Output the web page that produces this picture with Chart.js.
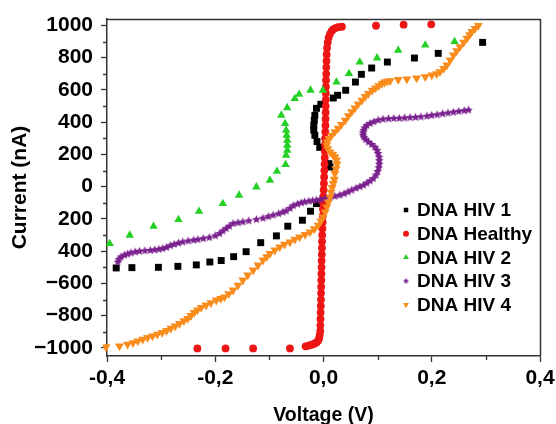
<!DOCTYPE html>
<html>
<head>
<meta charset="utf-8">
<script src="https://cdn.jsdelivr.net/npm/chart.js@4/dist/chart.umd.min.js"></script>
<style>
  html, body { margin: 0; padding: 0; background: #fff; }
  #wrap { width: 556px; height: 424px; }
</style>
</head>
<body>
<div id="wrap"><canvas id="c" width="556" height="424"></canvas></div>
<script>
// ---------------- data ----------------
const seriesLabels = ['DNA HIV 1', 'DNA Healthy', 'DNA HIV 2', 'DNA HIV 3', 'DNA HIV 4'];

const hiv1V = [-0.383, -0.354, -0.305, -0.269, -0.235, -0.210, -0.189, -0.166, -0.143, -0.116, -0.087, -0.066, -0.039, -0.024, -0.013,
  0.010, 0.012, -0.007, -0.012, -0.016, -0.018, -0.018, -0.017, -0.016, -0.013, -0.005,
  0.018, 0.026, 0.041, 0.059, 0.070, 0.089, 0.118, 0.168, 0.212, 0.294];
const hiv1I = [-504, -502, -500, -494, -485, -467, -458, -434, -403, -347, -305, -245, -208, -152, -105,
  143, 122, 244, 280, 319, 350, 381, 412, 443, 486, 511,
  550, 567, 598, 649, 697, 736, 773, 798, 827, 895];

const healthyV = [-0.233, -0.181, -0.130, -0.062,
  -0.033, -0.029, -0.025, -0.021, -0.017, -0.013, -0.010, -0.008, -0.007, -0.006,
  -0.0058, -0.0056, -0.0053, -0.0050, -0.0047, -0.0045, -0.0043, -0.0040, -0.0038, -0.0036, -0.0034, -0.0031, -0.0029, -0.0027,
  -0.0024, -0.0020, -0.0016, -0.0012, -0.0009, -0.0006, -0.0002, 0.0003, 0.0008, 0.0012, 0.0016, 0.0020, 0.0023, 0.0025,
  0.0027, 0.0030, 0.0033, 0.0036, 0.0038, 0.0040, 0.0041, 0.0042, 0.0043, 0.0044, 0.0047, 0.0050, 0.0052, 0.0055, 0.0058,
  0.0065, 0.0078, 0.0095, 0.012, 0.015, 0.018, 0.022, 0.027, 0.034, 0.097, 0.148, 0.199];
const healthyI = [-1003, -1003, -1003, -1003,
  -990, -987, -983, -979, -974, -966, -955, -940, -920, -895,
  -860, -820, -780, -740, -700, -660, -620, -580, -540, -500, -460, -420, -380, -340,
  -300, -260, -220, -180, -140, -100, -60, -20, 20, 60, 100, 140, 180, 220,
  260, 300, 340, 380, 420, 460, 500, 540, 580, 620, 660, 700, 740, 780, 820,
  860, 895, 925, 948, 965, 976, 984, 989, 992, 998, 1005, 1007];

const hiv2V = [-0.395, -0.358, -0.314, -0.268, -0.230, -0.186, -0.156, -0.124, -0.099, -0.086, -0.070, -0.069, -0.067, -0.067,
  -0.067, -0.068, -0.069, -0.071, -0.078, -0.067, -0.053, -0.045, -0.024, -0.001, 0.024, 0.047, 0.067, 0.099, 0.138, 0.188, 0.242];
const hiv2I = [-353, -301, -246, -204, -153, -105, -53, -2, 40, 95, 137, 195, 226, 257,
  288, 319, 350, 391, 443, 490, 546, 573, 598, 598, 649, 701, 773, 798, 846, 878, 900];

const hiv3V = [-0.380, -0.378, -0.374, -0.368, -0.362, -0.356, -0.348, -0.340, -0.330, -0.320, -0.312, -0.304, -0.297, -0.290,
  -0.283, -0.276, -0.268, -0.260, -0.250, -0.240, -0.232, -0.222, -0.211, -0.200, -0.192, -0.186, -0.180, -0.174, -0.167,
  -0.158, -0.149, -0.138, -0.124, -0.112, -0.102, -0.093, -0.083, -0.075, -0.069, -0.062, -0.056, -0.048, -0.041, -0.035,
  -0.027, -0.020, -0.013, -0.006, 0.003, 0.012, 0.021, 0.030, 0.038, 0.045, 0.052, 0.060, 0.067, 0.074, 0.080, 0.086,
  0.092, 0.097, 0.100, 0.102, 0.103, 0.103, 0.103, 0.101, 0.099, 0.095, 0.089, 0.083, 0.078, 0.075, 0.073, 0.073, 0.074,
  0.076, 0.080, 0.086, 0.093, 0.101, 0.110, 0.120, 0.130, 0.140, 0.150, 0.160, 0.170, 0.180, 0.191, 0.200, 0.210, 0.220,
  0.230, 0.240, 0.250, 0.260, 0.268];
const hiv3I = [-467, -450, -436, -425, -418, -411, -405, -401, -398, -395, -392, -388, -384, -377,
  -366, -358, -350, -343, -337, -332, -328, -322, -316, -305, -291, -275, -260, -245, -229,
  -224, -219, -212, -204, -196, -186, -177, -168, -158, -151, -135, -118, -108, -100, -95,
  -90, -87, -84, -80, -74, -68, -60, -53, -44, -33, -22, -10, 0, 9, 22, 35,
  50, 72, 95, 118, 140, 162, 184, 206, 226, 245, 262, 277, 292, 306, 320, 335, 350,
  365, 380, 392, 402, 412, 418, 421, 423, 424, 426, 428, 430, 433, 437, 442, 446, 452,
  457, 462, 467, 471, 475];

const hiv4V = [-0.402, -0.377, -0.362, -0.352, -0.343, -0.334, -0.325, -0.316, -0.307, -0.298, -0.290, -0.282, -0.274, -0.266,
  -0.258, -0.251, -0.245, -0.239, -0.233, -0.226, -0.217, -0.208, -0.198, -0.190, -0.183, -0.175, -0.167, -0.158, -0.149,
  -0.140, -0.130, -0.121, -0.112, -0.105, -0.099, -0.090, -0.081, -0.072, -0.062, -0.053, -0.044, -0.034, -0.025, -0.017,
  -0.010, -0.005, -0.001, 0.003, 0.006, 0.009, 0.012, 0.014, 0.016, 0.018, 0.020, 0.021, 0.023, 0.025, 0.024, 0.021, 0.017,
  0.012, 0.008, 0.006, 0.007, 0.010, 0.015, 0.021, 0.027, 0.033, 0.040, 0.046, 0.052, 0.058, 0.064, 0.071, 0.077, 0.083,
  0.090, 0.096, 0.102, 0.108, 0.113, 0.118, 0.123, 0.138, 0.154, 0.172, 0.188, 0.200, 0.209, 0.215, 0.222, 0.228, 0.234,
  0.240, 0.246, 0.252, 0.259, 0.265, 0.270, 0.274, 0.280, 0.286];
const hiv4I = [-994, -988, -978, -968, -957, -946, -936, -926, -916, -905, -893, -878, -864, -849,
  -832, -818, -800, -781, -765, -750, -735, -720, -704, -694, -684, -664, -642, -612, -580,
  -549, -518, -487, -456, -435, -415, -394, -374, -358, -343, -327, -312, -297, -281, -262,
  -239, -214, -188, -158, -126, -95, -64, -33, -5, 19, 45, 81, 110, 140, 165, 185, 200,
  215, 235, 257, 278, 298, 318, 340, 362, 385, 412, 440, 464, 488, 512, 536, 558, 578,
  598, 612, 626, 639, 648, 654, 657, 664, 668, 674, 682, 692, 700, 713, 732, 754, 785,
  816, 842, 868, 895, 920, 942, 962, 981, 999];

const xTicks = [-0.4, -0.2, 0, 0.2, 0.4];
const xTickLabels = ['-0,4', '-0,2', '0,0', '0,2', '0,4'];
const xMinor = [-0.3, -0.1, 0.1, 0.3];
const yTicks = [-1000, -800, -600, -400, -200, 0, 200, 400, 600, 800, 1000];
const yTickLabels = ['\u22121000', '\u2212800', '\u2212600', '400', '200', '0', '200', '400', '600', '800', '1000'];
const yMinor = [-900, -700, -500, -300, -100, 100, 300, 500, 700, 900];

// ---------------- styles ----------------
const FONT = "'Liberation Sans', Arial, sans-serif";
const AXIS = '#333333';
const colors = ['#000000', '#ee1515', '#25d025', '#7a1f8e', '#f98c1c'];

function pts(v, i) { return v.map((x, k) => ({ x: x, y: i[k] })); }

function makeStar(color, R) {
  const c = document.createElement('canvas');
  const s = Math.ceil(R * 2) + 2;
  c.width = s; c.height = s;
  const g = c.getContext('2d');
  g.fillStyle = color;
  g.beginPath();
  for (let k = 0; k < 10; k++) {
    const r = k % 2 ? R * 0.48 : R;
    const a = -Math.PI / 2 + k * Math.PI / 5;
    const px = s / 2 + r * Math.cos(a), py = s / 2 + r * Math.sin(a);
    if (k) g.lineTo(px, py); else g.moveTo(px, py);
  }
  g.closePath(); g.fill();
  return c;
}
const starPlot = makeStar(colors[3], 4.4);
const starLegend = makeStar(colors[3], 3.2);

const legendStyles = [
  { pointStyle: 'rect', radius: 3.2, rotation: 0 },
  { pointStyle: 'circle', radius: 3.0, rotation: 0 },
  { pointStyle: 'triangle', radius: 3.4, rotation: 0 },
  { pointStyle: starLegend, radius: 3, rotation: 0 },
  { pointStyle: 'triangle', radius: 3.4, rotation: 180 }
];

const frameAndMinor = {
  id: 'frameAndMinor',
  afterDraw(chart) {
    const { ctx, chartArea: a } = chart;
    const xs = chart.scales.x, ys = chart.scales.y;
    ctx.save();
    ctx.strokeStyle = AXIS;
    ctx.lineWidth = 1.3;
    ctx.beginPath();
    yMinor.forEach(v => { const py = Math.round(ys.getPixelForValue(v)) + 0.5; ctx.moveTo(a.left, py); ctx.lineTo(a.left - 4, py); });
    xMinor.forEach(v => { const px = Math.round(xs.getPixelForValue(v)) + 0.5; ctx.moveTo(px, a.bottom); ctx.lineTo(px, a.bottom + 4); });
    ctx.stroke();
    ctx.lineWidth = 1.5;
    ctx.beginPath();
    ctx.moveTo(a.left, a.top + 0.5);
    ctx.lineTo(a.right + 0.5, a.top + 0.5);
    ctx.lineTo(a.right + 0.5, a.bottom);
    ctx.stroke();
    ctx.restore();
  }
};

const insideLegend = {
  id: 'insideLegend',
  afterDraw(chart) {
    const { ctx } = chart;
    ctx.save();
    ctx.font = 'bold 19px ' + FONT;
    ctx.textBaseline = 'middle';
    ctx.textAlign = 'left';
    chart.data.datasets.forEach((ds, k) => {
      const cy = 210 + k * 23.7;
      const st = legendStyles[k];
      ctx.fillStyle = ds.backgroundColor;
      ctx.strokeStyle = ds.backgroundColor;
      if (Chart.helpers && Chart.helpers.drawPoint) {
        Chart.helpers.drawPoint(ctx, { pointStyle: st.pointStyle, radius: st.radius, rotation: st.rotation, borderWidth: 0 }, 406, cy);
      }
      ctx.fillStyle = '#000';
      ctx.fillText(ds.label, 417, cy + 1);
    });
    ctx.restore();
  }
};

const datasets = [
  { label: seriesLabels[0], data: pts(hiv1V, hiv1I), pointStyle: 'rect', pointRadius: 4.9, order: 5 },
  { label: seriesLabels[1], data: pts(healthyV, healthyI), pointStyle: 'circle', pointRadius: 3.9, order: 4 },
  { label: seriesLabels[2], data: pts(hiv2V, hiv2I), pointStyle: 'triangle', pointRadius: 4.9, order: 3 },
  { label: seriesLabels[3], data: pts(hiv3V, hiv3I), pointStyle: starPlot, pointRadius: 4, order: 2 },
  { label: seriesLabels[4], data: pts(hiv4V, hiv4I), pointStyle: 'triangle', pointRotation: 180, pointRadius: 5.2, order: 1 }
].map((d, k) => Object.assign(d, {
  backgroundColor: colors[k], borderColor: colors[k], pointBackgroundColor: colors[k],
  pointBorderWidth: 0, showLine: false, clip: 4
}));

new Chart(document.getElementById('c'), {
  type: 'scatter',
  data: { datasets: datasets },
  plugins: [frameAndMinor, insideLegend],
  options: {
    responsive: false,
    animation: false,
    devicePixelRatio: 1,
    events: [],
    layout: { padding: { left: 0, right: 16, top: 19, bottom: 0 } },
    plugins: { legend: { display: false }, tooltip: { enabled: false } },
    scales: {
      x: {
        type: 'linear', min: -0.4, max: 0.4,
        afterBuildTicks: s => { s.ticks = xTicks.map(v => ({ value: v })); },
        afterFit: s => { s.height = 68; s.paddingLeft = 0; s.paddingRight = 0; },
        ticks: {
          autoSkip: false, maxRotation: 0, padding: 4, color: '#000',
          font: { family: FONT, size: 21, weight: 'bold' },
          callback: v => xTickLabels[xTicks.findIndex(t => Math.abs(t - v) < 1e-9)]
        },
        grid: { drawOnChartArea: false, drawTicks: true, tickLength: 6, tickColor: AXIS, tickWidth: 1.3 },
        border: { display: true, color: AXIS, width: 1.5 },
        title: {
          display: true, text: 'Voltage (V)', color: '#000',
          font: { family: FONT, size: 19.5, weight: 'bold', lineHeight: 0.82 },
          padding: { top: 0, bottom: 0 }
        }
      },
      y: {
        type: 'linear', min: -1050, max: 1040,
        afterBuildTicks: s => { s.ticks = yTicks.map(v => ({ value: v })); },
        afterFit: s => { s.width = 107; s.paddingTop = 0; s.paddingBottom = 0; },
        ticks: {
          autoSkip: false, padding: 8, color: '#000',
          font: { family: FONT, size: 21, weight: 'bold' },
          callback: v => yTickLabels[yTicks.indexOf(v)]
        },
        grid: { drawOnChartArea: false, drawTicks: true, tickLength: 6, tickColor: AXIS, tickWidth: 1.3 },
        border: { display: true, color: AXIS, width: 1.5 },
        title: {
          display: true, text: 'Current (nA)', color: '#000',
          font: { family: FONT, size: 21, weight: 'bold', lineHeight: 1.2 },
          padding: { top: 8, bottom: 0 }
        }
      }
    }
  }
});
</script>
</body>
</html>
